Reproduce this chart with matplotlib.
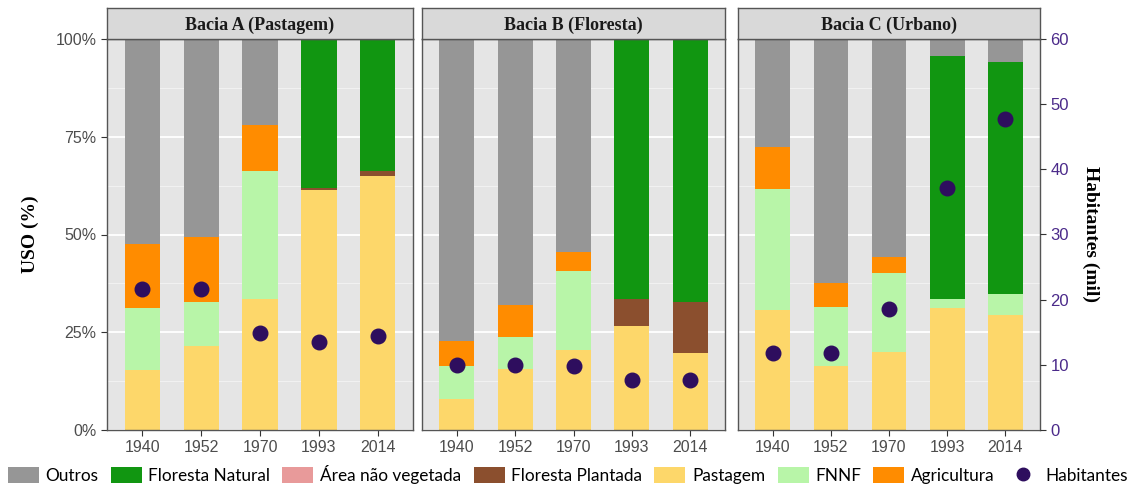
import matplotlib
matplotlib.use("Agg")
import matplotlib.pyplot as plt
from matplotlib.patches import Patch
from matplotlib.lines import Line2D
import numpy as np

years = ["1940", "1952", "1970", "1993", "2014"]
bacias = ["Bacia A (Pastagem)", "Bacia B (Floresta)", "Bacia C (Urbano)"]

# uso do solo (%) por bacia, na ordem dos anos
pastagem = {
    "A": [15.3, 21.5, 33.5, 61.5, 65.0],
    "B": [7.9, 15.6, 20.5, 26.6, 19.7],
    "C": [30.7, 16.4, 20.0, 31.2, 29.4],
}
fnnf = {
    "A": [15.9, 11.2, 32.7, 0.0, 0.0],
    "B": [8.5, 8.2, 20.2, 0.0, 0.0],
    "C": [30.9, 15.1, 20.2, 2.3, 5.4],
}
agricultura = {
    "A": [16.4, 16.7, 11.8, 0.0, 0.0],
    "B": [6.4, 8.2, 4.8, 0.0, 0.0],
    "C": [10.8, 6.1, 4.1, 0.0, 0.0],
}
floresta_plantada = {
    "A": [0.0, 0.0, 0.0, 0.3, 1.2],
    "B": [0.0, 0.0, 0.0, 6.9, 13.0],
    "C": [0.0, 0.0, 0.0, 0.0, 0.0],
}
area_nao_veg = {
    "A": [0.0, 0.0, 0.0, 0.2, 0.0],
    "B": [0.0, 0.0, 0.0, 0.0, 0.0],
    "C": [0.0, 0.0, 0.0, 0.0, 0.0],
}
floresta_natural = {
    "A": [0.0, 0.0, 0.0, 38.0, 33.8],
    "B": [0.0, 0.0, 0.0, 66.5, 67.3],
    "C": [0.0, 0.0, 0.0, 62.2, 59.3],
}
outros = {
    "A": [52.4, 50.6, 22.0, 0.0, 0.0],
    "B": [77.2, 68.0, 54.5, 0.0, 0.0],
    "C": [27.6, 62.4, 55.7, 4.3, 5.9],
}
# habitantes (mil)
habitantes = {
    "A": [21.6, 21.6, 14.9, 13.5, 14.4],
    "B": [10.0, 10.0, 9.8, 7.7, 7.7],
    "C": [11.8, 11.8, 18.6, 37.1, 47.7],
}

layers = [
    ("Pastagem", pastagem, "#FDD76A"),
    ("FNNF", fnnf, "#B8F5A8"),
    ("Agricultura", agricultura, "#FF8C00"),
    ("Floresta Plantada", floresta_plantada, "#8B4F2E"),
    ("Área não vegetada", area_nao_veg, "#E89A9A"),
    ("Floresta Natural", floresta_natural, "#119611"),
    ("Outros", outros, "#969696"),
]
colors = {name: c for name, _, c in layers}
hab_color = "#2E0E5E"

W, H = 1135, 487
fig = plt.figure(figsize=(W / 100, H / 100), dpi=100)

lefts = [107, 422, 738]
widths = [306, 303, 302]
top, bottom = 39, 430
x = np.arange(len(years))

for i, key in enumerate(["A", "B", "C"]):
    ax = fig.add_axes([lefts[i] / W, (H - bottom) / H, widths[i] / W, (bottom - top) / H])
    ax.set_facecolor("#E5E5E5")
    base = np.zeros(len(years))
    for name, d, c in layers:
        v = np.array(d[key])
        ax.bar(x, v, 0.6, bottom=base, color=c, zorder=2)
        base += v
    ax.set_xlim(-0.6, 4.6)
    ax.set_ylim(0, 100)
    ax.set_yticks([0, 25, 50, 75, 100])
    ax.set_yticks([12.5, 37.5, 62.5, 87.5], minor=True)
    ax.grid(True, which="major", axis="y", color="white", lw=1.3, zorder=0)
    ax.grid(True, which="minor", axis="y", color="#F2F2F2", lw=0.7, zorder=0)
    ax.set_xticks(x)
    ax.set_xticklabels(years, fontsize=11.5, color="#4D4D4D", family="Liberation Sans")
    ax.tick_params(axis="x", length=4, color="#333333")
    for s in ax.spines.values():
        s.set_color("#555555")
        s.set_linewidth(1.0)
    if i == 0:
        ax.set_yticklabels(["0%", "25%", "50%", "75%", "100%"], fontsize=11.5,
                           color="#4D4D4D", family="Liberation Sans")
        ax.tick_params(axis="y", which="major", length=4, color="#333333")
        ax.tick_params(axis="y", which="minor", length=0)
        ax.set_ylabel("USO (%)", fontsize=14, fontweight="bold", family="Liberation Serif",
                      labelpad=12)
    else:
        ax.tick_params(axis="y", which="both", length=0, labelleft=False)

    ax2 = ax.twinx()
    ax2.scatter(x, habitantes[key], s=110, color=hab_color, zorder=5)
    ax2.set_ylim(0, 60)
    if i == 2:
        ax2.set_yticks([0, 10, 20, 30, 40, 50, 60])
        ax2.tick_params(axis="y", labelsize=12, labelcolor="#4B2A8A", length=4, color="#333333")
        for lab in ax2.get_yticklabels():
            lab.set_family("Liberation Sans")
        ax2.set_ylabel("Habitantes (mil)", fontsize=14, fontweight="bold",
                       family="Liberation Serif", rotation=270, labelpad=22)
    else:
        ax2.set_yticks([])
    for s in ax2.spines.values():
        s.set_visible(False)

    strip = fig.add_axes([lefts[i] / W, (H - top) / H, widths[i] / W, 31 / H])
    strip.set_facecolor("#D9D9D9")
    strip.set_xticks([])
    strip.set_yticks([])
    for s in strip.spines.values():
        s.set_color("#555555")
        s.set_linewidth(1.0)
    strip.text(0.5, 0.45, bacias[i], ha="center", va="center", fontsize=13,
               fontweight="bold", family="Liberation Serif", color="#1A1A1A")

legend_order = ["Outros", "Floresta Natural", "Área não vegetada", "Floresta Plantada",
                "Pastagem", "FNNF", "Agricultura"]
handles = [Patch(facecolor=colors[n], edgecolor="none", label=n) for n in legend_order]
handles.append(Line2D([], [], marker="o", ls="none", color=hab_color, markersize=9,
                      label="Habitantes"))
fig.legend(handles=handles, loc="lower center", bbox_to_anchor=(0.5, -0.025), ncol=8,
           frameon=False, prop={"family": "Lato", "size": 12.4}, handlelength=1.8,
           handleheight=1.1, handletextpad=0.4, columnspacing=0.7)

fig.savefig("out.png", dpi=100, facecolor="white")
